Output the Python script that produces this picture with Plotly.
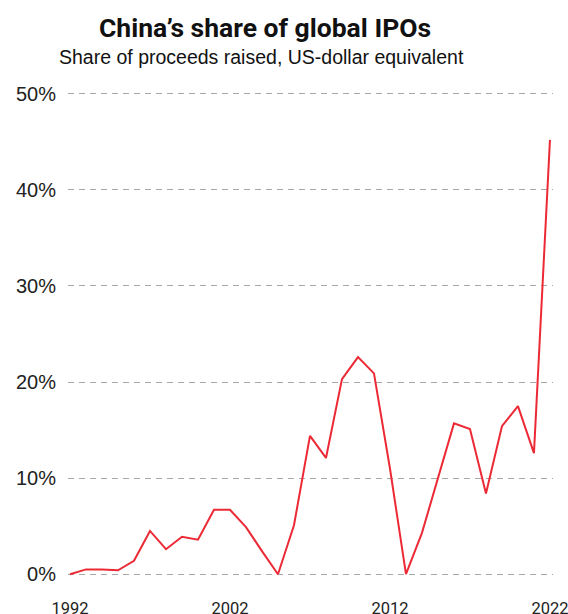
import plotly.graph_objects as go

years = list(range(1992, 2023))
share = [0.0, 0.5, 0.5, 0.4, 1.4, 4.5, 2.6, 3.9, 3.6, 6.7, 6.7, 4.9, 2.4, 0.0, 5.1,
         14.4, 12.1, 20.3, 22.6, 20.9, 11.0, 0.0, 4.3, 10.1, 15.7, 15.1, 8.4, 15.4,
         17.5, 12.6, 45.2]
y_ticks = [0, 10, 20, 30, 40, 50]
y_labels = ["0%", "10%", "20%", "30%", "40%", "50%"]
x_ticks = [1992, 2002, 2012, 2022]
x_labels = ["1992", "2002", "2012", "2022"]

title_text = "China\u2019s share of global IPOs"
subtitle_text = "Share of proceeds raised, US-dollar equivalent"

fig = go.Figure()
fig.add_trace(go.Scatter(
    x=years, y=share, mode="lines",
    line=dict(color="#ec2a35", width=2),
    hoverinfo="skip", showlegend=False,
))

L, R, T, B = 68, 15, 89, 35
W, H = 568, 614
pw = W - L - R
ph = H - T - B

def px_x(p):
    return (p - L) / pw

def px_y(p):
    return (H - B - p) / ph

fig.update_layout(
    width=W, height=H,
    margin=dict(l=L, r=R, t=T, b=B, pad=0),
    paper_bgcolor="white", plot_bgcolor="white",
    xaxis=dict(
        range=[1991.875, 2022.19],
        tickvals=x_ticks, ticktext=x_labels,
        showgrid=False, zeroline=False, showline=False,
        ticks="", ticklabelstandoff=17, automargin=False, ticklabeloverflow="allow",
        tickfont=dict(family="Roboto, sans-serif", size=16.5, color="#222222"),
        fixedrange=True,
    ),
    yaxis=dict(
        range=[-0.5, 50.5],
        tickvals=y_ticks, ticktext=y_labels,
        showgrid=True, gridcolor="#a8a8a8", gridwidth=1.3, griddash="6px,5px",
        zeroline=False, showline=False, ticks="", ticklabelstandoff=11, automargin=False,
        tickfont=dict(family="Liberation Sans, Arial, sans-serif", size=20, color="#222222"),
        fixedrange=True,
    ),
    annotations=[
        dict(text="<b>" + title_text + "</b>", xref="paper", yref="paper",
             x=px_x(265), y=px_y(27), xanchor="center", yanchor="middle",
             showarrow=False,
             font=dict(family="Roboto, sans-serif", size=26.5, color="#111111")),
        dict(text=subtitle_text, xref="paper", yref="paper",
             x=px_x(261), y=px_y(57), xanchor="center", yanchor="middle",
             showarrow=False,
             font=dict(family="Liberation Sans, Arial, sans-serif", size=19.5, color="#111111")),
    ],
)

fig.write_html("out.html")
